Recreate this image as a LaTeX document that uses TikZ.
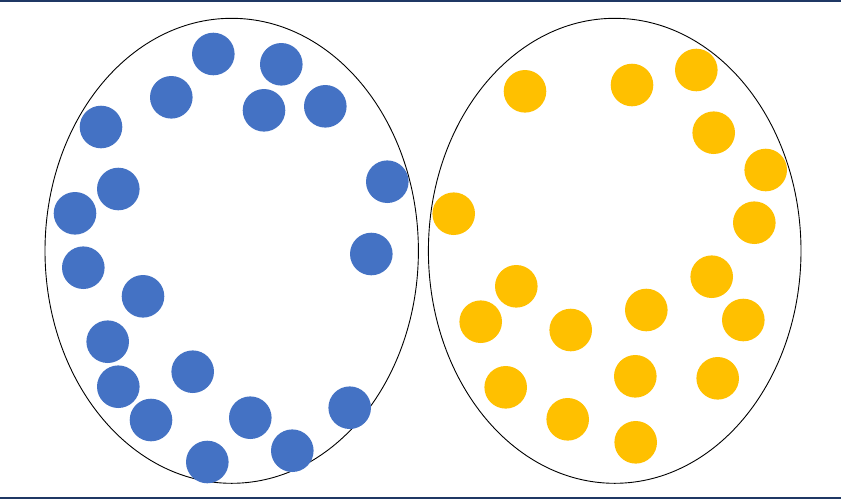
\documentclass[tikz,border=0pt]{standalone}
\begin{document}
\begin{tikzpicture}[x=1pt,y=-1pt,
  blueball/.style={circle,fill={rgb,255:red,68;green,114;blue,196},inner sep=0pt,minimum size=42.6pt},
  yellowball/.style={circle,fill={rgb,255:red,255;green,192;blue,0},inner sep=0pt,minimum size=42.6pt},
  setring/.style={draw=black,line width=0.9pt},
  rule/.style={draw={rgb,255:red,31;green,56;blue,100},line width=1.4pt}]
\useasboundingbox (0,0) rectangle (841,499);
\fill[white] (0,0) rectangle (841,499);
\draw[rule] (0,1) -- (841,1);
\draw[rule] (0,498) -- (841,498);
\draw[setring] (231.7,250.8) ellipse [x radius=186.7, y radius=232.5];
\draw[setring] (614.7,250.8) ellipse [x radius=186.3, y radius=232.5];
% blue
\foreach \n/\x/\y in {b1/213.3/54, b2/281.3/64.3, b3/171.3/97.3, b4/264/110.3, b5/325.3/106.3,
  b6/101/127, b7/118.3/189, b8/75/213.3, b9/387.3/181.7, b10/83.3/267.7, b11/371.3/254,
  b12/143/296.3, b13/107.7/341.7, b14/192.7/371.7, b15/118.3/386.7, b16/151/420,
  b17/250.3/417.7, b18/349.7/407.7, b19/207.3/462, b20/292.3/450.7}
  \node[blueball] (\n) at (\x,\y) {};
% yellow
\foreach \n/\x/\y in {y1/525/91.3, y2/632/85, y3/696.3/70, y4/713.7/132.7, y5/765.7/170,
  y6/453.7/213.7, y7/754.3/222.7, y8/516.3/286.3, y9/711.7/276.7, y10/480.7/321.7,
  y11/570.7/330, y12/646.3/310, y13/743.3/320, y14/505.7/387.3, y15/635.3/376.3,
  y16/717.7/378.3, y17/567.7/419.3, y18/635.7/442.3}
  \node[yellowball] (\n) at (\x,\y) {};
\end{tikzpicture}
\end{document}
